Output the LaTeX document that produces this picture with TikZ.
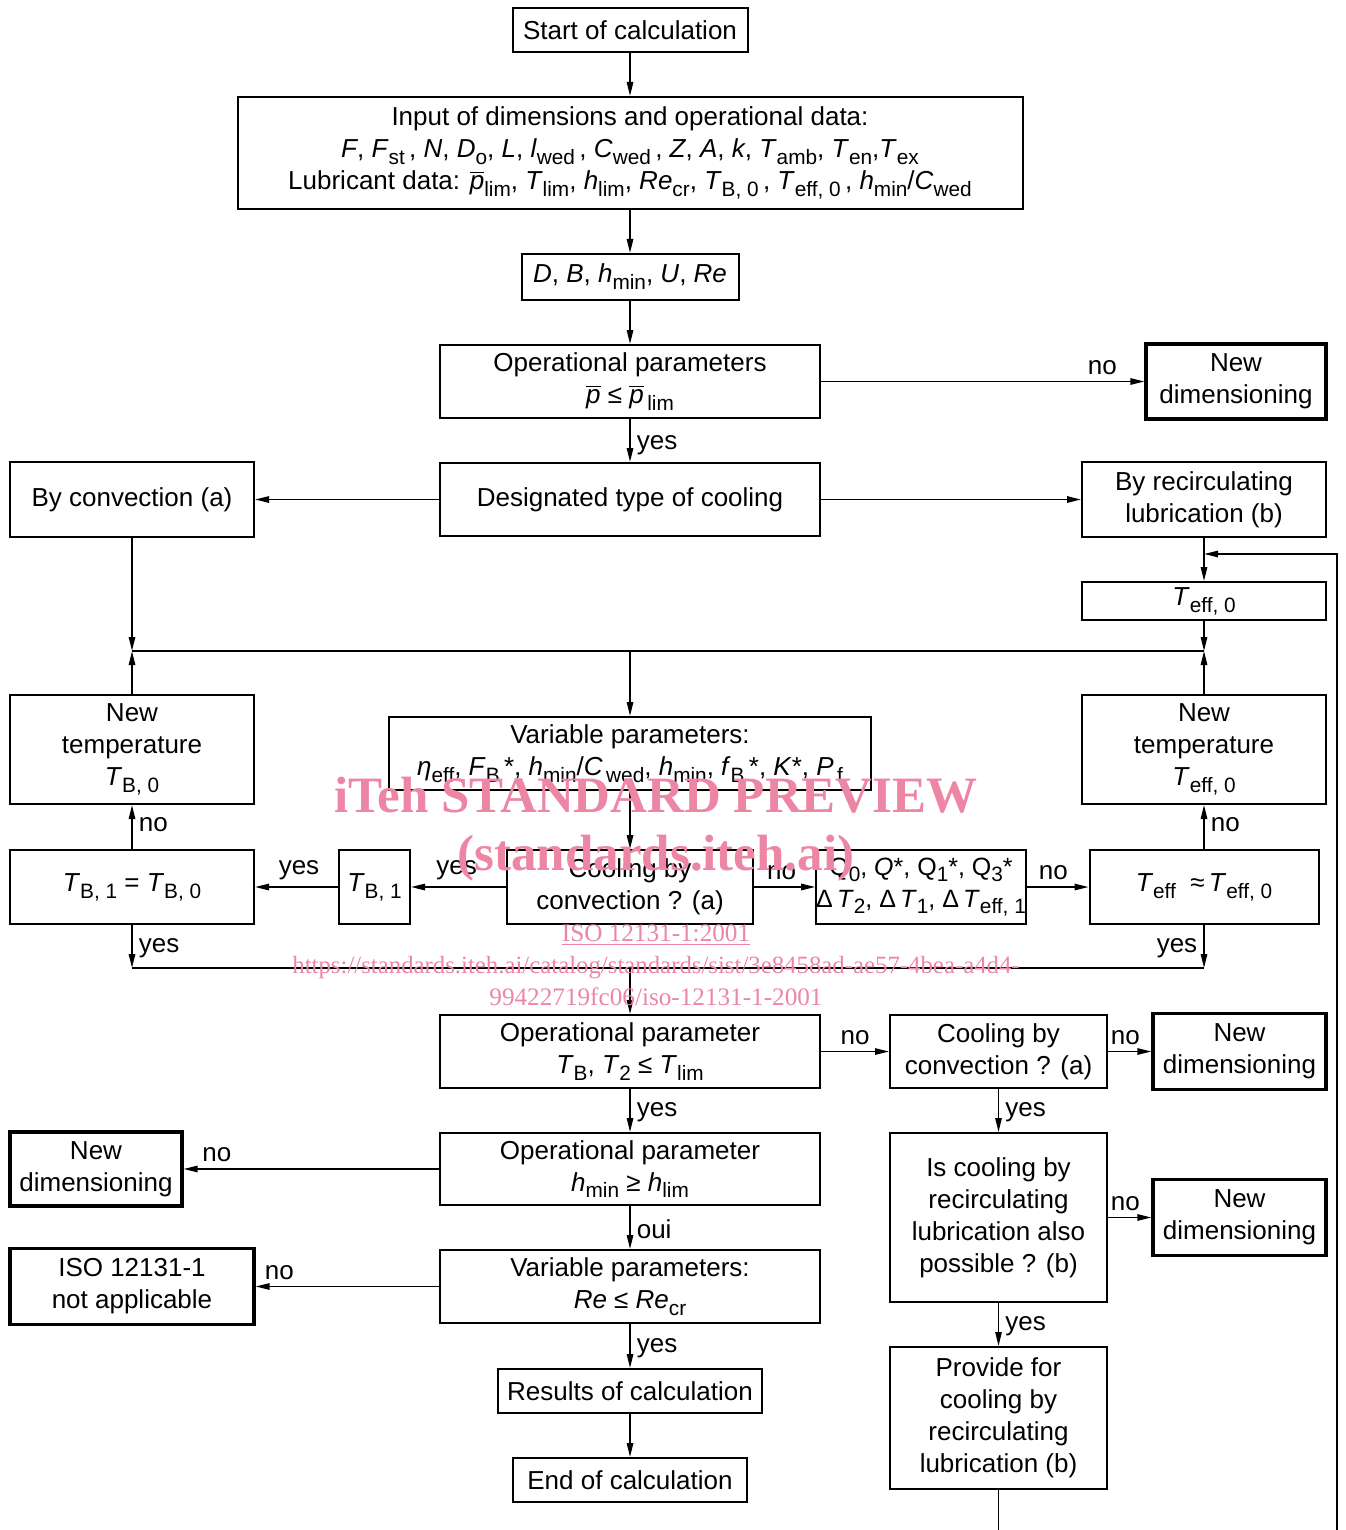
\documentclass[tikz,border=0pt]{standalone}
\usepackage{fontspec}
\setmainfont{Liberation Sans}
\newfontfamily\wmfont{Liberation Serif}
\usepackage{xcolor}
\usetikzlibrary{arrows.meta}
\definecolor{chartink}{HTML}{000000}
\definecolor{wmpink}{HTML}{EC86A4}
\newcommand{\mainfs}{\fontsize{13}{16}\selectfont}
\newcommand{\subfs}{\fontsize{10.4}{12}\selectfont}
\newcommand{\sub}[1]{\raisebox{-0.5ex}{\subfs #1}}
\newcommand{\vi}[1]{\textit{#1}}
\newcommand{\pbar}{$\overline{\mbox{\vi{p}}}$}

\begin{document}
\begin{tikzpicture}[x=0.5pt, y=-0.5pt, >={Triangle[length=7pt,width=3.2pt]},
                    every node/.style={chartink, font=\mainfs},
                    box/.style 2 args={draw, line width=1pt, align=center, inner sep=0pt,
                                       minimum width=#1*0.5pt, minimum height=#2*0.5pt},
                    boxk/.style 2 args={box={#1}{#2}, line width=1.6pt},
                    wire/.style={line width=0.8pt},
                    lbl/.style={inner sep=3pt},
                    wm/.style={wmpink, inner sep=0pt, anchor=base}]

  \useasboundingbox (0,0) rectangle (1345,1530);

  %% top of the chart
  \node[box={235}{44}] (start) at (630,30) {Start of calculation};
  \node[box={785}{112}] (input) at (630,153)
    {Input of dimensions and operational data:\\
     \vi{F}, \vi{F}\sub{st}\,, \vi{N}, \vi{D}\sub{o}, \vi{L}, \vi{l}\sub{wed}\,, \vi{C}\sub{wed}\,, \vi{Z}, \vi{A}, \vi{k}, \vi{T}\sub{amb}, \vi{T}\sub{en},\vi{T}\sub{ex}\\
     Lubricant data: \pbar\sub{lim}, \vi{T}\sub{lim}, \vi{h}\sub{lim}, \vi{Re}\sub{cr}, \vi{T}\sub{B, 0}\,, \vi{T}\sub{eff, 0}\,, \vi{h}\sub{min}/\vi{C}\sub{wed}};
  \node[box={217}{46}] (dbh) at (630,277) {\vi{D}, \vi{B}, \vi{h}\sub{min}, \vi{U}, \vi{Re}};
  \node[box={380}{73}] (opp) at (630,381.5) {Operational parameters\\\pbar\ ≤ \pbar\sub{\,lim}};
  \node[boxk={180}{75}] (newdimA) at (1236,381.5) {New\\dimensioning};

  %% type of cooling
  \node[box={380}{73}] (cool) at (630,499.5) {Designated type of cooling};
  \node[box={244}{75}] (conv) at (132,499.5) {By convection (a)};
  \node[box={244}{75}] (recirc) at (1204,499.5) {By recirculating\\lubrication (b)};
  \node[box={244}{38}] (teff0) at (1204,601) {\vi{T}\sub{eff, 0}};

  \coordinate (jL) at (132,651);
  \coordinate (jC) at (630,651);
  \coordinate (jR) at (1204,651);

  %% iteration on the temperature
  \node[box={244}{109}] (newtempL) at (132,749.5) {New\\temperature\\\vi{T}\sub{B, 0}};
  \node[box={482}{73}] (varp) at (630,753.5)
    {Variable parameters:\\
     \vi{η}\sub{eff}, \vi{F}\sub{B}\,*, \vi{h}\sub{min}/\vi{C}\sub{\,wed}, \vi{h}\sub{min}, \vi{f}\sub{B}\,*, \vi{K}*, \vi{P}\sub{\,f}};
  \node[box={244}{109}] (newtempR) at (1204,749.5) {New\\temperature\\\vi{T}\sub{eff, 0}};

  \node[box={244}{74}] (tbeq) at (132,887) {\vi{T}\sub{B, 1} = \vi{T}\sub{B, 0}};
  \node[box={71}{74}] (tb1) at (374.5,887) {\vi{T}\sub{B, 1}};
  \node[box={246}{74}] (convq) at (630,887) {Cooling by\\convection ? (a)};
  \node[box={206}{74}, font=\fontsize{12.5}{16}\selectfont] (qbox) at (921,887)
    {Q\sub{0}, \vi{Q}*, Q\sub{1}*, Q\sub{3}*\\
     Δ\,\vi{T}\sub{2}, Δ\,\vi{T}\sub{1}, Δ\,\vi{T}\sub{eff, 1}};
  \node[box={229}{74}] (teffeq) at (1204,887) {\vi{T}\sub{eff}\ \ ≈\,\vi{T}\sub{eff, 0}};

  \coordinate (kL) at (132,968);
  \coordinate (kC) at (630,968);
  \coordinate (kR) at (1204,968);

  %% checks of the operational parameters
  \node[box={380}{73}] (opT) at (630,1051.5) {Operational parameter\\\vi{T}\sub{B}, \vi{T}\sub{2} ≤ \vi{T}\sub{lim}};
  \node[box={217}{73}] (convq2) at (998.5,1051.5) {Cooling by\\convection ? (a)};
  \node[boxk={173}{76}] (newdimB) at (1239.5,1051.5) {New\\dimensioning};
  \node[box={380}{72}] (oph) at (630,1169) {Operational parameter\\\vi{h}\sub{min} ≥ \vi{h}\sub{lim}};
  \node[boxk={172}{74}] (newdimC) at (96,1169) {New\\dimensioning};
  \node[box={217}{169}] (recq) at (998.5,1217.5)
    {Is cooling by\\recirculating\\lubrication also\\possible ? (b)};
  \node[boxk={173}{76}] (newdimD) at (1239.5,1217.5) {New\\dimensioning};
  \node[box={380}{73}] (varre) at (630,1286.5) {Variable parameters:\\\vi{Re} ≤ \vi{Re}\sub{cr}};
  \node[boxk={244}{76}] (iso) at (132,1286.5) {ISO 12131-1\\not applicable};
  \node[box={264}{44}] (results) at (630,1391) {Results of calculation};
  \node[box={234}{44}] (endc) at (630,1480) {End of calculation};
  \node[box={217}{142}] (provide) at (998.5,1418)
    {Provide for\\cooling by\\recirculating\\lubrication (b)};

  \coordinate (loopA) at (998.5,1530);
  \coordinate (loopB) at (1337,1530);
  \coordinate (loopC) at (1337,554);
  \coordinate (loopD) at (1204,554);

  %% connectors
  \draw[wire,->] (start) -- (input);
  \draw[wire,->] (input) -- (dbh);
  \draw[wire,->] (dbh) -- (opp);
  \draw[wire,->] (opp) -- node[lbl,above,pos=.87] {no} (newdimA);
  \draw[wire,->] (opp) -- node[lbl,right,pos=.6] {yes} (cool);
  \draw[wire,->] (cool) -- (conv);
  \draw[wire,->] (cool) -- (recirc);
  \draw[wire,->] (recirc) -- (teff0);
  \draw[wire,->] (teff0) -- (jR);
  \draw[wire,->] (conv) -- (jL);
  \draw[wire,->] (newtempL) -- (jL);
  \draw[wire,->] (newtempR) -- (jR);
  \draw[wire] (jL) -- (jR);
  \draw[wire,->] (jC) -- (varp);
  \draw[wire,->] (varp) -- (convq);
  \draw[wire,->] (convq) -- node[lbl,above,pos=.52] {yes} (tb1);
  \draw[wire,->] (tb1) -- node[lbl,above,pos=.47] {yes} (tbeq);
  \draw[wire,->] (convq) -- node[lbl,above,pos=.45] {no} (qbox);
  \draw[wire,->] (qbox) -- node[lbl,above,pos=.43] {no} (teffeq);
  \draw[wire,->] (tbeq) -- node[lbl,right,pos=.55] {no} (newtempL);
  \draw[wire,->] (teffeq) -- node[lbl,right,pos=.55] {no} (newtempR);
  \draw[wire,->] (tbeq) -- node[lbl,right,pos=.55] {yes} (kL);
  \draw[wire,->] (teffeq) -- node[lbl,left,pos=.55] {yes} (kR);
  \draw[wire] (kL) -- (kR);
  \draw[wire,->] (kC) -- (opT);
  \draw[wire,->] (opT) -- node[lbl,above,pos=.5] {no} (convq2);
  \draw[wire,->] (convq2) -- node[lbl,above,pos=.4] {no} (newdimB);
  \draw[wire,->] (convq2) -- node[lbl,right,pos=.55] {yes} (recq);
  \draw[wire,->] (recq) -- node[lbl,above,pos=.4] {no} (newdimD);
  \draw[wire,->] (recq) -- node[lbl,right,pos=.55] {yes} (provide);
  \draw[wire] (provide) -- (loopA);
  \draw[wire,->] (loopB) -- (loopC) -- (loopD);
  \draw[wire,->] (opT) -- node[lbl,right,pos=.55] {yes} (oph);
  \draw[wire,->] (oph) -- node[lbl,above,pos=.87] {no} (newdimC);
  \draw[wire,->] (oph) -- node[lbl,right,pos=.55] {oui} (varre);
  \draw[wire,->] (varre) -- node[lbl,above,pos=.87] {no} (iso);
  \draw[wire,->] (varre) -- node[lbl,right,pos=.55] {yes} (results);
  \draw[wire,->] (results) -- (endc);

  %% watermark over the chart
  \node[wm, font=\wmfont\bfseries\fontsize{25.5}{28}\selectfont] (wmA) at (656,812) {iTeh STANDARD PREVIEW};
  \node[wm, font=\wmfont\bfseries\fontsize{25.5}{28}\selectfont] (wmB) at (656,870) {(standards.iteh.ai)};
  \node[wm, font=\wmfont\fontsize{12.6}{14}\selectfont] (wmC) at (656,941) {\underline{ISO 12131-1:2001}};
  \node[wm, font=\wmfont\fontsize{12.4}{14}\selectfont] (wmD) at (656,973)
    {https://standards.iteh.ai/catalog/standards/sist/3e8458ad-ae57-4bea-a4d4-};
  \node[wm, font=\wmfont\fontsize{12.6}{14}\selectfont] (wmE) at (656,1005) {99422719fc06/iso-12131-1-2001};

\end{tikzpicture}
\end{document}
